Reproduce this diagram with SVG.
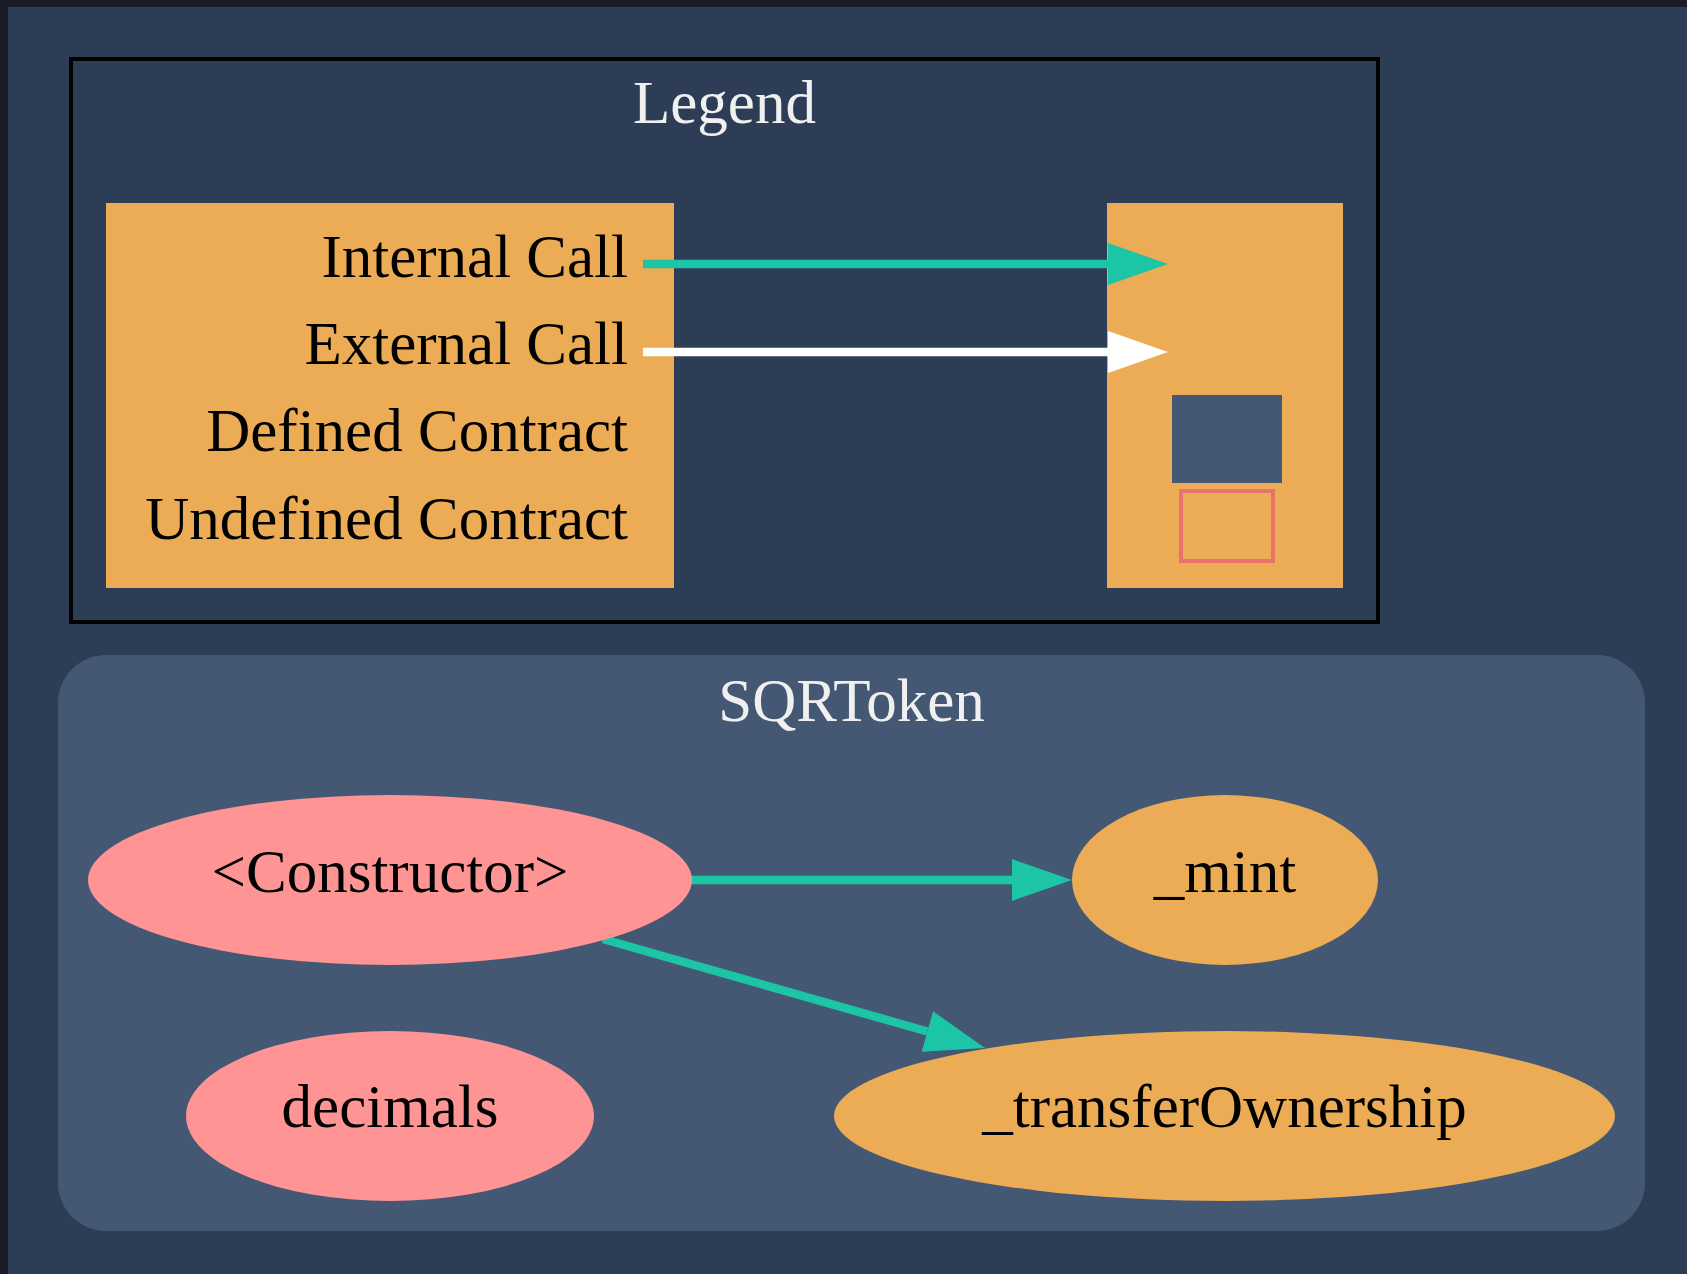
<svg xmlns="http://www.w3.org/2000/svg" width="1687" height="1274" viewBox="0 0 1687 1274">
<defs>
<style>
text{font-family:"Liberation Serif","Times New Roman",serif;font-size:61px;}
.lbl{fill:#000;text-anchor:middle;}
.ttl{fill:#f0f0f0;text-anchor:middle;}
.leg{fill:#000;text-anchor:end;}
.orange{fill:#ebac55;}
.pink{fill:#ff9494;}
.edge{stroke:#1bc5a6;stroke-width:8.5;fill:none;}
</style>
<marker id="ah" markerUnits="userSpaceOnUse" viewBox="0 0 60 42" refX="0" refY="21" markerWidth="60" markerHeight="42" orient="auto">
<path d="M0,0 L60,21 L0,42 Z" fill="#1bc5a6"/>
</marker>
<marker id="ahw" markerUnits="userSpaceOnUse" viewBox="0 0 60 42" refX="0" refY="21" markerWidth="60" markerHeight="42" orient="auto">
<path d="M0,0 L60,21 L0,42 Z" fill="#ffffff"/>
</marker>
</defs>
<rect x="0" y="0" width="1687" height="1274" fill="#1b1a29"/>
<rect x="8" y="7" width="1679" height="1267" fill="#2e3d56"/>
<g id="legend">
<rect x="71" y="59" width="1307" height="563" fill="none" stroke="#000" stroke-width="4"/>
<text class="ttl" x="724.5" y="123">Legend</text>
<g id="legend-keys">
<rect class="orange" x="106" y="203" width="568" height="385"/>
<text class="leg" x="628" y="277">Internal Call</text>
<text class="leg" x="628" y="364">External Call</text>
<text class="leg" x="628" y="451">Defined Contract</text>
<text class="leg" x="628" y="539">Undefined Contract</text>
</g>
<g id="legend-targets">
<rect class="orange" x="1107" y="203" width="236" height="385"/>
<rect x="1172" y="395" width="110" height="88" fill="#445773"/>
<rect x="1181" y="491" width="92" height="70" fill="none" stroke="#e8726d" stroke-width="4"/>
</g>
<g id="legend-edges">
<line x1="643" y1="264" x2="1108" y2="264" class="edge" marker-end="url(#ah)"/>
<line x1="643" y1="352" x2="1108" y2="352" stroke="#fff" stroke-width="8.5" marker-end="url(#ahw)"/>
</g>
</g>
<g id="cluster_SQRToken">
<rect x="58" y="655" width="1587" height="576" rx="48" ry="48" fill="#445773"/>
<text class="ttl" x="851.5" y="721">SQRToken</text>
</g>
<g id="connectors">
<line x1="691" y1="880" x2="1012" y2="880" class="edge" marker-end="url(#ah)"/>
<line x1="603" y1="939" x2="927.3" y2="1031.5" class="edge" marker-end="url(#ah)"/>
</g>
<g id="node_constructor">
<ellipse class="pink" cx="390" cy="880" rx="302" ry="85"/>
<text class="lbl" x="390" y="892">&lt;Constructor&gt;</text>
</g>
<g id="node_mint">
<ellipse class="orange" cx="1225" cy="880" rx="153" ry="85"/>
<text class="lbl" x="1225" y="892">_mint</text>
</g>
<g id="node_decimals">
<ellipse class="pink" cx="390" cy="1116" rx="204" ry="85"/>
<text class="lbl" x="390" y="1127">decimals</text>
</g>
<g id="node_transferOwnership">
<ellipse class="orange" cx="1224.5" cy="1116" rx="390.5" ry="85"/>
<text class="lbl" x="1224.5" y="1127">_transferOwnership</text>
</g>
</svg>
